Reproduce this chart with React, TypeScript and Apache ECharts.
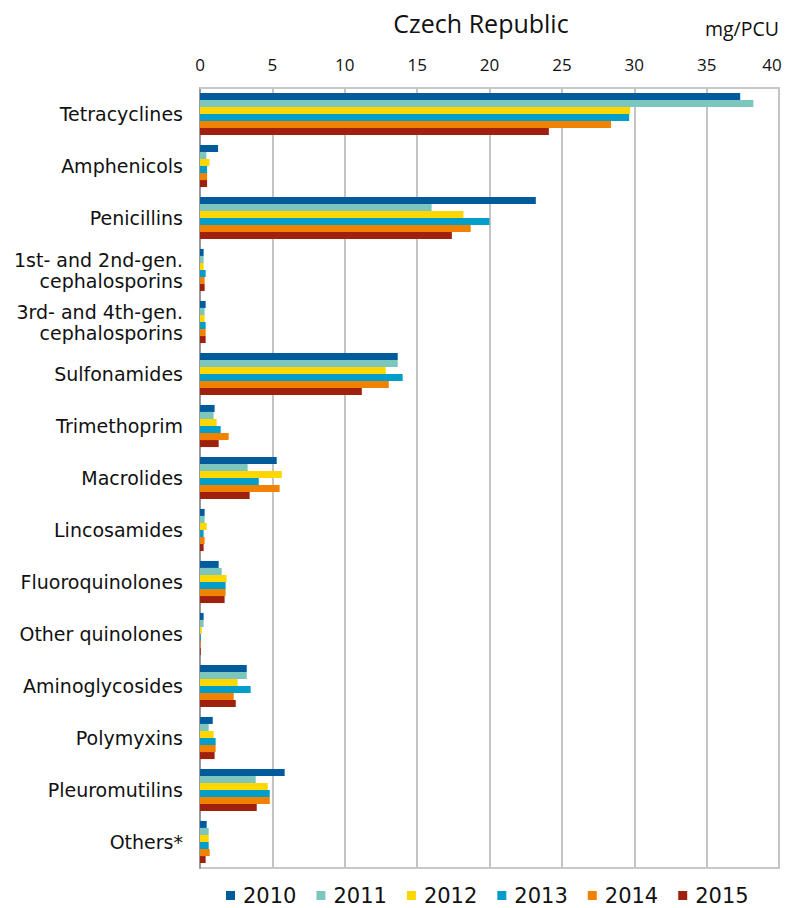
import React, { useEffect, useRef } from "react";
import * as echarts from "echarts";

const categories = [
  "Tetracyclines",
  "Amphenicols",
  "Penicillins",
  "1st- and 2nd-gen.\ncephalosporins",
  "3rd- and 4th-gen.\ncephalosporins",
  "Sulfonamides",
  "Trimethoprim",
  "Macrolides",
  "Lincosamides",
  "Fluoroquinolones",
  "Other quinolones",
  "Aminoglycosides",
  "Polymyxins",
  "Pleuromutilins",
  "Others*",
];

const years = ["2010", "2011", "2012", "2013", "2014", "2015"];

const v2010 = [37.32, 1.25, 23.2, 0.25, 0.39, 13.66, 1.01, 5.3, 0.32, 1.29, 0.25, 3.23, 0.88, 5.85, 0.46];
const v2011 = [38.23, 0.44, 16.0, 0.25, 0.32, 13.66, 0.94, 3.29, 0.32, 1.5, 0.25, 3.23, 0.6, 3.85, 0.6];
const v2012 = [29.72, 0.65, 18.2, 0.25, 0.32, 12.83, 1.15, 5.65, 0.46, 1.84, 0.12, 2.6, 0.94, 4.68, 0.6];
const v2013 = [29.65, 0.49, 20.0, 0.39, 0.39, 14.0, 1.43, 4.06, 0.25, 1.77, 0.05, 3.5, 1.08, 4.82, 0.6];
const v2014 = [28.4, 0.49, 18.7, 0.32, 0.39, 13.04, 1.98, 5.5, 0.32, 1.77, 0.05, 2.33, 1.08, 4.82, 0.67];
const v2015 = [24.1, 0.49, 17.4, 0.32, 0.39, 11.18, 1.29, 3.43, 0.25, 1.7, 0.05, 2.47, 1.01, 3.92, 0.39];

const seriesValues = [v2010, v2011, v2012, v2013, v2014, v2015];
const colors = ["#005b9d", "#7dc6bd", "#ffd700", "#009ec8", "#f08200", "#a0200e"];

const xTicks = { min: 0, max: 40, interval: 5 };

export default function App() {
  const ref = useRef<HTMLDivElement>(null);
  useEffect(() => {
    if (!ref.current) return;
    const chart = echarts.init(ref.current, undefined, { renderer: "svg" });
    chart.setOption({
      animation: false,
      color: colors,
      graphic: [
        {
          type: "text",
          x: 481,
          y: 23,
          style: {
            text: "Czech Republic",
            font: "25px 'Open Sans'",
            fill: "#111",
            textAlign: "center",
            textVerticalAlign: "middle",
          },
        },
        {
          type: "text",
          x: 779,
          y: 28,
          style: {
            text: "mg/PCU",
            font: "19.5px 'Open Sans'",
            fill: "#111",
            textAlign: "right",
            textVerticalAlign: "middle",
          },
        },
      ],
      legend: {
        bottom: 2,
        left: 226,
        padding: 0,
        itemWidth: 9,
        itemHeight: 9,
        itemGap: 20,
        icon: "rect",
        textStyle: { fontFamily: "DejaVu Sans", fontSize: 21, color: "#111", padding: [0, 0, 0, 3] },
        data: years,
      },
      grid: {
        left: 200,
        right: 6,
        top: 88,
        bottom: 40,
        containLabel: false,
        show: true,
        borderColor: "#c8c8c8",
        borderWidth: 2,
      },
      xAxis: {
        type: "value",
        position: "top",
        min: xTicks.min,
        max: xTicks.max,
        interval: xTicks.interval,
        axisLine: { show: true, lineStyle: { color: "#c8c8c8", width: 2 } },
        axisTick: { show: false },
        axisLabel: {
          fontFamily: "Open Sans",
          fontSize: 17,
          color: "#111",
          margin: 15,
          formatter: (v: number) => (v === xTicks.max ? "{last|" + v + "}" : String(v)),
          rich: {
            last: { fontFamily: "Open Sans", fontSize: 17, color: "#111", padding: [0, 14, 0, 0] },
          },
        },
        splitLine: { show: true, lineStyle: { color: "#c4c4c4", width: 2 } },
      },
      yAxis: {
        type: "category",
        inverse: true,
        data: categories,
        axisLine: { show: true, lineStyle: { color: "#999", width: 2 } },
        axisTick: { show: false },
        axisLabel: {
          fontFamily: "DejaVu Sans",
          fontSize: 19,
          color: "#111",
          margin: 17,
          align: "right",
          lineHeight: 21,
        },
      },
      series: years.map((y, i) => ({
        name: y,
        type: "bar",
        data: seriesValues[i],
        barGap: "0%",
        barCategoryGap: "19%",
        itemStyle: { color: colors[i] },
      })),
    });
    return () => chart.dispose();
  }, []);
  return <div ref={ref} style={{ width: 785, height: 908, position: "absolute", left: 0, top: 0 }} />;
}
